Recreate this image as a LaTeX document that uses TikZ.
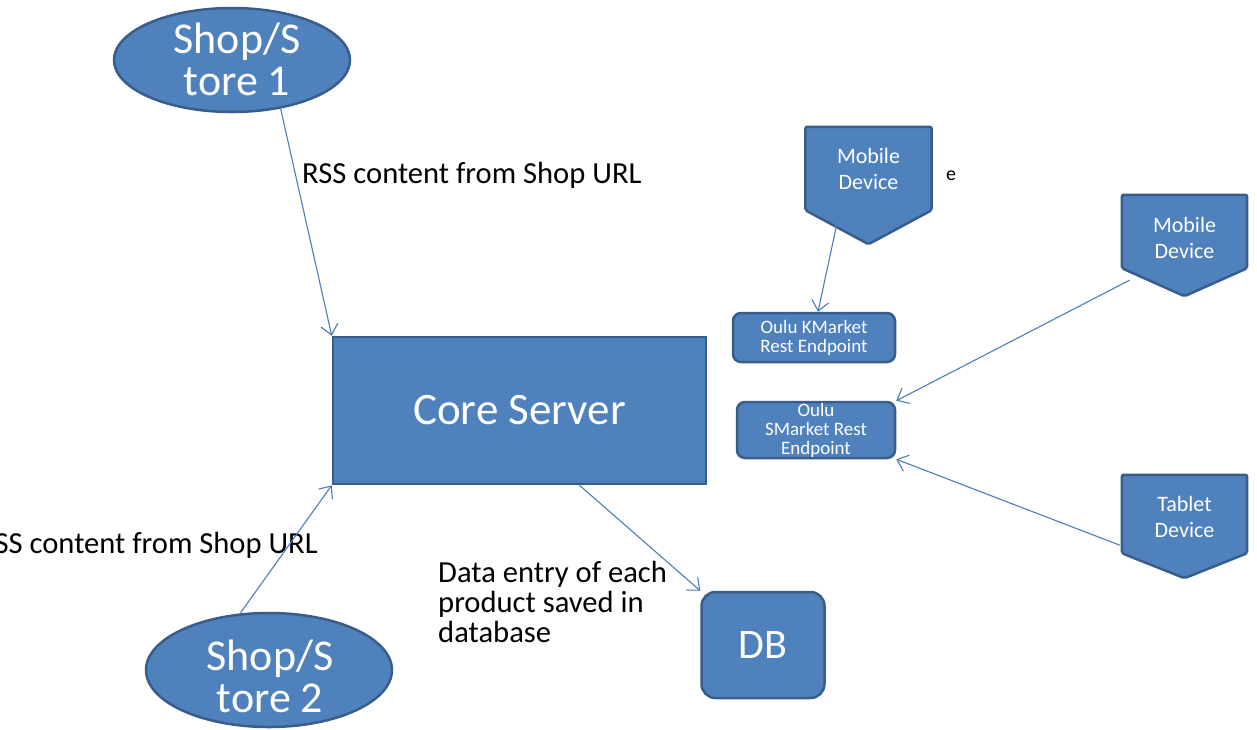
\documentclass[tikz,border=0pt]{standalone}
\usepackage{fontspec}
\setmainfont{Carlito}
\usetikzlibrary{arrows.meta,calc,backgrounds,shapes.geometric}
\definecolor{boxfill}{HTML}{4F81BD}
\definecolor{boxline}{HTML}{385D8A}
\definecolor{linkcol}{HTML}{4A7EBB}

\begin{document}
\begin{tikzpicture}[x=1pt,y=-1pt,
  bluebox/.style={fill=boxfill, draw=boxline, line width=2.5pt, inner sep=0pt},
  whitetext/.style={text=white, align=center, inner sep=0pt},
  devtext/.style={whitetext, font=\fontsize{22}{26}\selectfont},
  eptext/.style={whitetext, font=\fontsize{19}{19}\selectfont},
  devbox/.style={rectangle, inner sep=0pt},
  lbl/.style={text=black, inner sep=0pt, font=\fontsize{30.6}{30}\selectfont},
  link/.style={draw=linkcol, line width=1.1pt, -{Straight Barb[length=10pt,width=17pt]}}
]
\useasboundingbox (0,0) rectangle (1257,729);

% shops
\node[bluebox, ellipse, minimum width=236, minimum height=104] (shop1) at (232,60) {};
\node[whitetext, font=\fontsize{44}{42}\selectfont] (shop1t) at ($(shop1.center)+(5,-1)$) {Shop/S\\tore 1};
\node[bluebox, ellipse, minimum width=246, minimum height=114] (shop2) at (269,670) {};
\node[whitetext, font=\fontsize{44}{42}\selectfont] (shop2t) at ($(shop2.center)+(1,6)$) {Shop/S\\tore 2};

% server and database
\node[bluebox, rectangle, minimum width=373, minimum height=147,
      text=white, font=\fontsize{45}{54}\selectfont] (core) at (519.5,410.5) {Core Server};
\node[bluebox, rectangle, rounded corners=14pt, minimum width=123, minimum height=106,
      text=white, font=\fontsize{42}{50}\selectfont] (db) at (763,645) {DB};

% devices (boxes with a pointed bottom)
\node[devbox, minimum width=126, minimum height=83] (md1) at (868.5,168.5) {};
\node[devtext] (md1t) at (md1.center) {Mobile\\Device};
\node[devbox, minimum width=125, minimum height=73] (md2) at (1184.5,231.5) {};
\node[devtext] (md2t) at ($(md2.center)+(0,6)$) {Mobile\\Device};
\node[devbox, minimum width=125, minimum height=78] (tab) at (1184.5,514) {};
\node[devtext] (tabt) at ($(tab.center)+(0,3)$) {Tablet\\Device};
\begin{scope}[on background layer]
  \fill[white] (0,0) rectangle (1257,729);
  \draw[bluebox, rounded corners=2pt] (md1.north west) -- (md1.north east) -- (md1.south east)
        -- ($(md1.south)+(0,34)$) -- (md1.south west) -- cycle;
  \draw[bluebox, rounded corners=2pt] (md2.north west) -- (md2.north east) -- (md2.south east)
        -- ($(md2.south)+(0,28)$) -- (md2.south west) -- cycle;
  \draw[bluebox, rounded corners=2pt] (tab.north west) -- (tab.north east) -- (tab.south east)
        -- ($(tab.south)+(0,25)$) -- (tab.south west) -- cycle;
\end{scope}

% rest endpoints
\node[bluebox, rectangle, rounded corners=8pt, minimum width=162, minimum height=49,
      eptext] (km) at (814,337.5) {Oulu KMarket\\Rest Endpoint};
\node[bluebox, rectangle, rounded corners=8pt, minimum width=158, minimum height=56,
      eptext] (sm) at (816,430) {Oulu\\SMarket Rest\\Endpoint};

% labels
\node[lbl, anchor=west] (rss1) at (302,175) {RSS content from Shop URL};
\begin{scope}
  \clip (0,0) rectangle (1257,729);
  \node[lbl, anchor=east] (rss2) at (318,545) {RSS content from Shop URL};
\end{scope}
\node[lbl, anchor=north west, align=left] (dlbl) at (438,561)
     {Data entry of each\\product saved in\\database};
\node[text=black, inner sep=0pt, font=\fontsize{20}{20}\selectfont] (etxt) at (951,176) {e};

% connectors
\draw[link] (shop1.-45) -- (core.north west);
\draw[link] (shop2.117) -- (core.south west);
\draw[link] ($(core.south)+(60,0)$) -- (db.north west);
\draw[link] ($(md1.south)+(-30,6)$) -- ($(km.north)+(4,0)$);
\draw[link] ($(md2.south)+(-55,12)$) -- (sm.north east);
\draw[link] ($(tab.south west)+(-2,-8)$) -- (sm.south east);
\end{tikzpicture}
\end{document}
